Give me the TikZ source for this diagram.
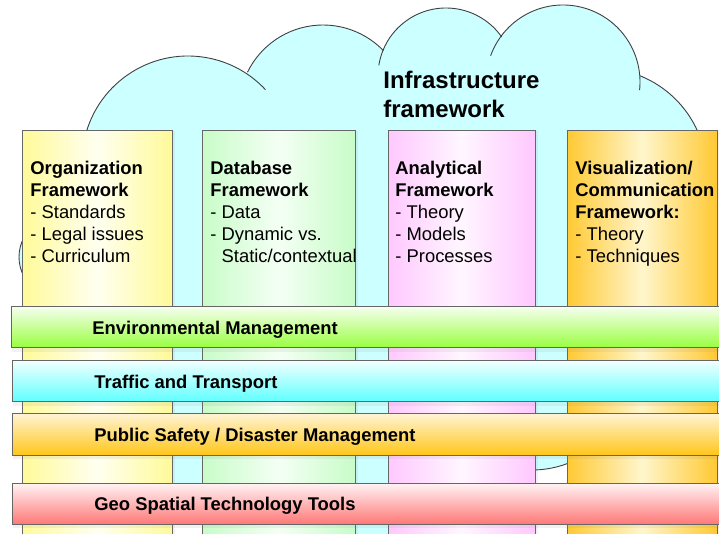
\documentclass[tikz,border=0pt]{standalone}
\usepackage{fontspec}
\setmainfont{Liberation Sans}
\usetikzlibrary{shadows}
\definecolor{cloudcyan}{HTML}{CCFFFF}
\definecolor{rimgray}{HTML}{404040}
\definecolor{orgside}{HTML}{FFFA99}
\definecolor{orgmid}{HTML}{FFFFF0}
\definecolor{dbside}{HTML}{C8FCC8}
\definecolor{dbmid}{HTML}{F4FFF4}
\definecolor{anaside}{HTML}{FFC8FF}
\definecolor{anamid}{HTML}{FFF6FF}
\definecolor{visside}{HTML}{FFC933}
\definecolor{vismid}{HTML}{FFF6CC}
\definecolor{envtop}{HTML}{F6FFF0}
\definecolor{envbot}{HTML}{99FF40}
\definecolor{trftop}{HTML}{F2FFFF}
\definecolor{trfbot}{HTML}{60FFFF}
\definecolor{saftop}{HTML}{FFF4D4}
\definecolor{safbot}{HTML}{FFC61A}
\definecolor{geotop}{HTML}{FFF4F4}
\definecolor{geobot}{HTML}{FF7878}

\begin{document}
\begin{tikzpicture}[x=1pt,y=-1pt,line width=.8pt,
  cloudline/.style={draw=rimgray,line width=.9pt},
  pillar/.style={draw=black!60,drop shadow={shadow xshift=3pt,shadow yshift=-1pt,opacity=.1}},
  band/.style={draw=black!60,drop shadow={shadow xshift=1pt,shadow yshift=-4pt,opacity=.1}},
  colhead/.style={anchor=north west,inner sep=0pt,align=left,font=\fontsize{18.4}{22}\selectfont},
  bandlabel/.style={anchor=base west,inner sep=0pt,font=\bfseries\fontsize{18.4}{22}\selectfont}]
\path[use as bounding box] (0,0) rectangle (719,533);
\fill[cloudcyan] (60,257) -- (188,162) -- (323,109) -- (446,76) -- (563,82) -- (600,175) -- (532,370) -- (400,420) -- (270,400) -- cycle;
\foreach \cx/\cy/\r in {60/257/41,188/162/106,323/109/84,446/76/68,563/82/77,600/175/107,532/370/100,400/420/130,270/400/135}
  \fill[cloudcyan] (\cx,\cy) circle[radius=\r];
\foreach \cx/\cy/\r/\a/\b in {60/257/41/150/210,188/162/106/190/317,323/109/84/206/316,446/76/68/189/325,563/82/77/200/366,600/175/107/292/380,532/370/100/60/110}
  \draw[cloudline] (\cx,\cy) ++(\a:\r) arc[start angle=\a,end angle=\b,radius=\r];
\node[anchor=north west,inner sep=0pt,align=left,font=\bfseries\fontsize{24}{28.5}\selectfont] (infra) at (383,71) {Infrastructure\\framework};

\draw[pillar,left color=orgside,right color=orgside,middle color=orgmid] (22,130) rectangle (172,545);
\draw[pillar,left color=dbside,right color=dbside,middle color=dbmid] (202,130) rectangle (355,545);
\draw[pillar,left color=anaside,right color=anaside,middle color=anamid] (388,130) rectangle (535,545);
\draw[pillar,left color=visside,right color=visside,middle color=vismid] (567,130) rectangle (717,545);
\node[colhead] (org) at (30,161) {\textbf{Organization}\\\textbf{Framework}\\- Standards\\- Legal issues\\- Curriculum};
\node[colhead] (db) at (210,161) {\textbf{Database}\\\textbf{Framework}\\- Data\\- Dynamic vs.\\\phantom{- }Static/contextual};
\node[colhead] (ana) at (395,161) {\textbf{Analytical}\\\textbf{Framework}\\- Theory\\- Models\\- Processes};
\node[colhead] (vis) at (575,161) {\textbf{Visualization/}\\\textbf{Communication}\\\textbf{Framework:}\\- Theory\\- Techniques};

\draw[band,top color=envtop,bottom color=envbot] (11,306.5) rectangle (730,347.5);
\draw[band,top color=trftop,bottom color=trfbot] (12,360.5) rectangle (730,401.5);
\draw[band,top color=saftop,bottom color=safbot] (12,413.5) rectangle (730,455);
\draw[band,top color=geotop,bottom color=geobot] (12,483) rectangle (730,524);
\node[bandlabel] (env) at (92,334.3) {Environmental Management};
\node[bandlabel] (trf) at (94,388.3) {Traffic and Transport};
\node[bandlabel] (saf) at (94,441.7) {Public Safety / Disaster Management};
\node[bandlabel] (geo) at (94,510.5) {Geo Spatial Technology Tools};
\end{tikzpicture}
\end{document}
